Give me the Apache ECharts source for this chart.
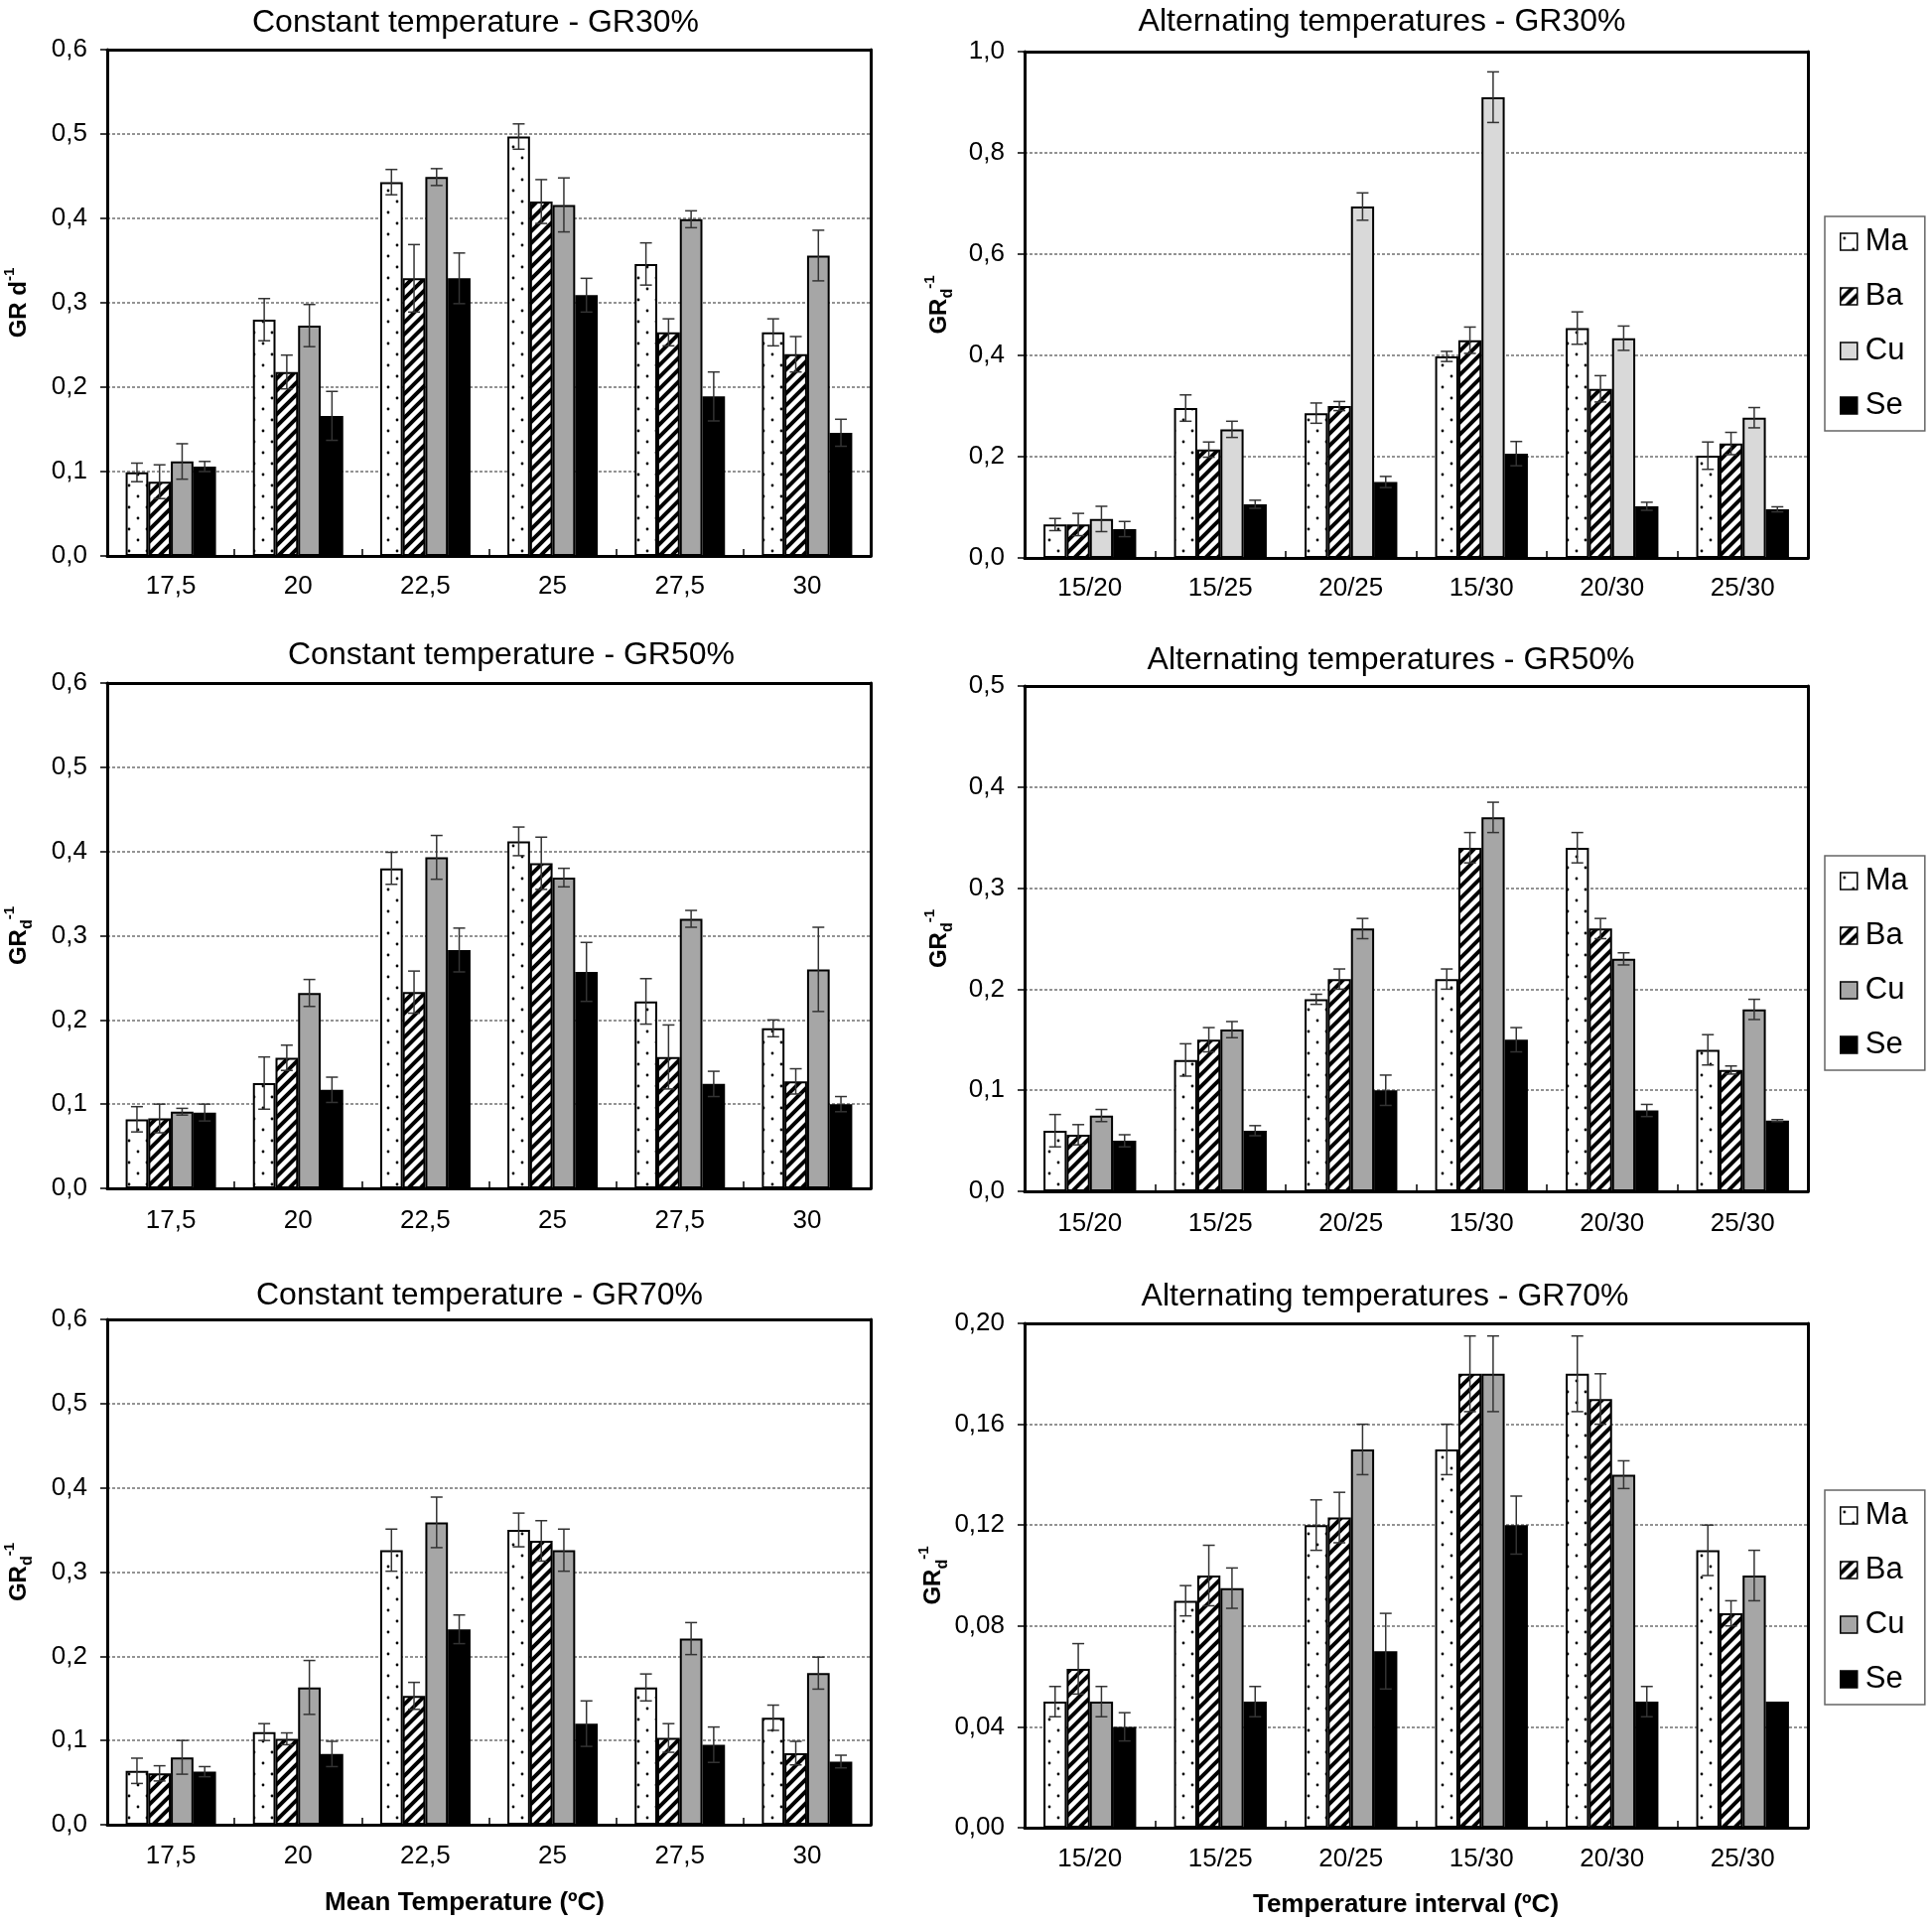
<!DOCTYPE html>
<html><head><meta charset="utf-8">
<script src="https://cdn.jsdelivr.net/npm/echarts@6/dist/echarts.min.js"></script>
<style>html,body{margin:0;padding:0;background:#fff}#c{width:1946px;height:1937px}</style>
</head><body><div id="c"></div>
<script>
// ---------- DATA ----------
const seriesNames = ['Ma', 'Ba', 'Cu', 'Se'];
const constCats = ['17,5', '20', '22,5', '25', '27,5', '30'];
const altCats = ['15/20', '15/25', '20/25', '15/30', '20/30', '25/30'];

const constYTicks = ['0,0', '0,1', '0,2', '0,3', '0,4', '0,5', '0,6'];
const alt30YTicks = ['0,0', '0,2', '0,4', '0,6', '0,8', '1,0'];
const alt50YTicks = ['0,0', '0,1', '0,2', '0,3', '0,4', '0,5'];
const alt70YTicks = ['0,00', '0,04', '0,08', '0,12', '0,16', '0,20'];

// Constant temperature - GR30%   (rows: Ma, Ba, Cu, Se)
const c30Values = [
  [0.099, 0.280, 0.443, 0.497, 0.346, 0.265],
  [0.088, 0.218, 0.329, 0.420, 0.265, 0.239],
  [0.112, 0.273, 0.449, 0.416, 0.399, 0.356],
  [0.106, 0.166, 0.329, 0.309, 0.189, 0.146]
];
const c30Errors = [
  [0.011, 0.025, 0.015, 0.015, 0.025, 0.016],
  [0.020, 0.020, 0.040, 0.026, 0.016, 0.021],
  [0.021, 0.025, 0.010, 0.032, 0.010, 0.030],
  [0.006, 0.029, 0.030, 0.020, 0.029, 0.016]
];
// Alternating temperatures - GR30%
const a30Values = [
  [0.066, 0.296, 0.286, 0.398, 0.454, 0.202],
  [0.066, 0.214, 0.300, 0.430, 0.334, 0.226],
  [0.077, 0.254, 0.694, 0.910, 0.434, 0.277],
  [0.057, 0.106, 0.150, 0.206, 0.102, 0.096]
];
const a30Errors = [
  [0.012, 0.026, 0.020, 0.010, 0.032, 0.027],
  [0.022, 0.015, 0.009, 0.026, 0.026, 0.022],
  [0.025, 0.016, 0.027, 0.050, 0.024, 0.020],
  [0.015, 0.008, 0.011, 0.024, 0.008, 0.005]
];
// Constant temperature - GR50%
const c50Values = [
  [0.082, 0.125, 0.380, 0.412, 0.222, 0.190],
  [0.083, 0.155, 0.233, 0.386, 0.156, 0.127],
  [0.091, 0.232, 0.393, 0.369, 0.320, 0.260],
  [0.090, 0.117, 0.283, 0.257, 0.124, 0.100]
];
const c50Errors = [
  [0.015, 0.031, 0.019, 0.017, 0.027, 0.010],
  [0.017, 0.015, 0.025, 0.031, 0.038, 0.015],
  [0.004, 0.016, 0.026, 0.011, 0.010, 0.050],
  [0.010, 0.015, 0.026, 0.035, 0.015, 0.009]
];
// Alternating temperatures - GR50%
const a50Values = [
  [0.060, 0.130, 0.190, 0.210, 0.340, 0.140],
  [0.056, 0.150, 0.210, 0.340, 0.260, 0.120],
  [0.075, 0.160, 0.260, 0.370, 0.230, 0.180],
  [0.050, 0.060, 0.100, 0.150, 0.080, 0.070]
];
const a50Errors = [
  [0.016, 0.016, 0.005, 0.010, 0.015, 0.015],
  [0.010, 0.012, 0.010, 0.015, 0.010, 0.004],
  [0.006, 0.008, 0.010, 0.015, 0.006, 0.010],
  [0.006, 0.005, 0.015, 0.012, 0.006, 0.001]
];
// Constant temperature - GR70%
const c70Values = [
  [0.064, 0.110, 0.326, 0.350, 0.163, 0.127],
  [0.061, 0.102, 0.153, 0.337, 0.103, 0.085],
  [0.080, 0.163, 0.359, 0.326, 0.221, 0.180],
  [0.063, 0.084, 0.232, 0.120, 0.095, 0.075]
];
const c70Errors = [
  [0.015, 0.010, 0.025, 0.020, 0.016, 0.015],
  [0.009, 0.007, 0.016, 0.024, 0.017, 0.014],
  [0.020, 0.032, 0.030, 0.025, 0.019, 0.019],
  [0.006, 0.015, 0.017, 0.027, 0.021, 0.0075]
];
// Alternating temperatures - GR70%
const a70Values = [
  [0.050, 0.090, 0.120, 0.150, 0.180, 0.110],
  [0.063, 0.100, 0.123, 0.180, 0.170, 0.085],
  [0.050, 0.095, 0.150, 0.180, 0.140, 0.100],
  [0.040, 0.050, 0.070, 0.120, 0.050, 0.050]
];
const a70Errors = [
  [0.006, 0.006, 0.010, 0.010, 0.015, 0.010],
  [0.010, 0.012, 0.010, 0.015, 0.010, 0.005],
  [0.006, 0.008, 0.010, 0.015, 0.0055, 0.010],
  [0.0056, 0.006, 0.015, 0.0115, 0.006, 0]
];

// ---------- STYLE ----------
const FONT = '"Liberation Sans", Arial, sans-serif';
const CAT_GAP = 0.29;

function dotPattern() {
  const c = document.createElement('canvas'); c.width = 18; c.height = 22;
  const g = c.getContext('2d');
  g.fillStyle = '#fff'; g.fillRect(0, 0, 18, 22);
  g.fillStyle = '#000';
  g.beginPath(); g.arc(4, 5, 1.4, 0, Math.PI * 2); g.fill();
  g.beginPath(); g.arc(13, 16, 1.4, 0, Math.PI * 2); g.fill();
  return c;
}
function stripePattern() {
  const s = 12;
  const c = document.createElement('canvas'); c.width = s; c.height = s;
  const g = c.getContext('2d');
  g.fillStyle = '#fff'; g.fillRect(0, 0, s, s);
  g.strokeStyle = '#000'; g.lineWidth = 4; g.lineCap = 'square';
  g.beginPath();
  g.moveTo(-s, s); g.lineTo(s, -s);
  g.moveTo(0, 2 * s); g.lineTo(2 * s, 0);
  g.moveTo(0, s); g.lineTo(s, 0);
  g.stroke();
  return c;
}
const dotFill = { image: dotPattern(), repeat: 'repeat' };
const stripeFill = { image: stripePattern(), repeat: 'repeat' };
const darkCu = '#a6a6a6', lightCu = '#d9d9d9';

const charts = [
  { title: 'Constant temperature - GR30%', tx: 479, ty: 23, cats: constCats, vals: c30Values, errs: c30Errors, max: 0.6, interval: 0.1, ticks: constYTicks,
    grid: { left: 108, top: 50, width: 769, height: 510 }, yname: '{a|GR d}{s|-1}', side: 'L', cu: darkCu, lab: 18 },
  { title: 'Alternating temperatures - GR30%', tx: 1392, ty: 22, cats: altCats, vals: a30Values, errs: a30Errors, max: 1.0, interval: 0.2, ticks: alt30YTicks,
    grid: { left: 1032, top: 52, width: 789, height: 510 }, yname: '{a|GR}{d|d}{s|-1}', side: 'R', cu: lightCu, lab: 18, legendTop: 218 },
  { title: 'Constant temperature - GR50%', tx: 515, ty: 660, cats: constCats, vals: c50Values, errs: c50Errors, max: 0.6, interval: 0.1, ticks: constYTicks,
    grid: { left: 108, top: 688, width: 769, height: 509 }, yname: '{a|GR}{d|d}{s|-1}', side: 'L', cu: darkCu, lab: 20 },
  { title: 'Alternating temperatures - GR50%', tx: 1401, ty: 665, cats: altCats, vals: a50Values, errs: a50Errors, max: 0.5, interval: 0.1, ticks: alt50YTicks,
    grid: { left: 1032, top: 691, width: 789, height: 509 }, yname: '{a|GR}{d|d}{s|-1}', side: 'R', cu: darkCu, lab: 20, legendTop: 862 },
  { title: 'Constant temperature - GR70%', tx: 483, ty: 1305, cats: constCats, vals: c70Values, errs: c70Errors, max: 0.6, interval: 0.1, ticks: constYTicks,
    grid: { left: 108, top: 1329, width: 769, height: 509 }, yname: '{a|GR}{d|d}{s|-1}', side: 'L', cu: darkCu, lab: 19 },
  { title: 'Alternating temperatures - GR70%', tx: 1395, ty: 1306, cats: altCats, vals: a70Values, errs: a70Errors, max: 0.20, interval: 0.04, ticks: alt70YTicks,
    grid: { left: 1032, top: 1333, width: 789, height: 508 }, yname: '{a|GR}{d|d}{s|-1}', side: 'R', cu: darkCu, lab: 19, legendTop: 1501 }
];

const nameRich = {
  a: { fontSize: 24, fontWeight: 'bold', fontFamily: FONT, color: '#000', lineHeight: 34 },
  d: { fontSize: 16, fontWeight: 'bold', fontFamily: FONT, color: '#000', lineHeight: 14, verticalAlign: 'bottom' },
  s: { fontSize: 15, fontWeight: 'bold', fontFamily: FONT, color: '#000', lineHeight: 14, verticalAlign: 'top' }
};

const option = {
  backgroundColor: '#fff',
  animation: false,
  title: [], grid: [], xAxis: [], yAxis: [], series: [], legend: []
};

charts.forEach((ch, gi) => {
  const fills = [dotFill, stripeFill, ch.cu, '#000'];
  option.title.push({
    text: ch.title, left: ch.tx, top: ch.ty, textAlign: 'center', textVerticalAlign: 'middle', padding: 0,
    textStyle: { fontSize: 32, fontWeight: 'normal', fontFamily: FONT, color: '#000' }
  });
  option.grid.push(Object.assign({ show: false, containLabel: false }, ch.grid));
  option.xAxis.push({
    gridIndex: gi, type: 'category', data: ch.cats, position: 'bottom',
    axisLine: { show: true, onZero: false, lineStyle: { color: '#000', width: 3 } },
    axisTick: { show: true, inside: true, length: 7, lineStyle: { color: '#000', width: 1.5 } },
    axisLabel: { fontSize: 26, color: '#000', fontFamily: FONT, margin: ch.lab },
    splitLine: { show: false }
  });
  const ticks = ch.ticks, iv = ch.interval;
  option.yAxis.push({
    gridIndex: gi, type: 'value', min: 0, max: ch.max, interval: iv, position: 'left',
    axisLine: { show: true, onZero: false, lineStyle: { color: '#000', width: 3 } },
    axisTick: { show: true, length: 7, lineStyle: { color: '#000', width: 1.5 } },
    axisLabel: { fontSize: 26, color: '#000', fontFamily: FONT, margin: 20,
      formatter: v => ticks[Math.round(v / iv)] },
    splitLine: { show: true, lineStyle: { color: '#707070', width: 1.5, type: [3, 2] } },
    name: ch.yname, nameLocation: 'middle', nameRotate: 90, nameGap: ch.side === 'L' ? 72 : 69,
    nameTextStyle: { rich: nameRich }
  });
  seriesNames.forEach((nm, si) => {
    option.series.push({
      type: 'bar', name: nm, xAxisIndex: gi, yAxisIndex: gi,
      data: ch.vals[si], barGap: '0%', barCategoryGap: (CAT_GAP * 100) + '%',
      itemStyle: { color: fills[si], borderColor: '#000', borderWidth: 2 },
      z: 2, silent: true
    });
  });
  const errData = [];
  seriesNames.forEach((nm, si) => {
    ch.vals[si].forEach((v, ci) => errData.push([ci, si, v, ch.errs[si][ci]]));
  });
  option.series.push({
    type: 'custom', xAxisIndex: gi, yAxisIndex: gi, z: 5, silent: true,
    data: errData, encode: { x: 0, y: 2 },
    renderItem: (params, api) => {
      const ci = api.value(0), si = api.value(1), v = api.value(2), e = api.value(3);
      if (!e) return null;
      const band = api.size([1, 0])[0];
      const bw = band * (1 - CAT_GAP) / 4;
      const x = api.coord([ci, v])[0] + (si - 1.5) * bw;
      const yt = api.coord([ci, v + e])[1], yb = api.coord([ci, v - e])[1];
      const st = { stroke: '#333', lineWidth: 1.5 };
      const cap = 6;
      return { type: 'group', children: [
        { type: 'line', shape: { x1: x, y1: yt, x2: x, y2: yb }, style: st },
        { type: 'line', shape: { x1: x - cap, y1: yt, x2: x + cap, y2: yt }, style: st },
        { type: 'line', shape: { x1: x - cap, y1: yb, x2: x + cap, y2: yb }, style: st }
      ] };
    }
  });
  if (ch.legendTop !== undefined) {
    option.legend.push({
      orient: 'vertical', left: 1838, top: ch.legendTop,
      padding: [10, 17, 10, 15], itemGap: 24, itemWidth: 17, itemHeight: 17,
      borderColor: '#666', borderWidth: 1.5, backgroundColor: '#fff',
      selectedMode: false, icon: 'rect',
      textStyle: { fontSize: 31, color: '#000', fontFamily: FONT, lineHeight: 30, padding: [0, 0, 0, 3] },
      data: seriesNames.map((nm, si) => ({ name: nm, itemStyle: { color: fills[si], borderColor: '#000', borderWidth: 1.5 } }))
    });
  }
});

// frame: top and right axis lines drawn over the gridlines
charts.forEach((ch, gi) => {
  option.xAxis.push({
    gridIndex: gi, type: 'category', data: ch.cats, position: 'top', z: 10,
    axisLine: { show: true, onZero: false, lineStyle: { color: '#000', width: 3 } },
    axisTick: { show: false }, axisLabel: { show: false }, splitLine: { show: false }
  });
  option.yAxis.push({
    gridIndex: gi, type: 'value', min: 0, max: ch.max, interval: ch.interval, position: 'right', z: 10,
    axisLine: { show: true, onZero: false, lineStyle: { color: '#000', width: 3 } },
    axisTick: { show: false }, axisLabel: { show: false }, splitLine: { show: false }
  });
});

option.title.push({
  text: 'Mean Temperature (ºC)', left: 468, top: 1917, textAlign: 'center', textVerticalAlign: 'middle', padding: 0,
  textStyle: { fontSize: 26, fontWeight: 'bold', fontFamily: FONT, color: '#000' }
});
option.title.push({
  text: 'Temperature interval (ºC)', left: 1416, top: 1919, textAlign: 'center', textVerticalAlign: 'middle', padding: 0,
  textStyle: { fontSize: 26, fontWeight: 'bold', fontFamily: FONT, color: '#000' }
});

const chart = echarts.init(document.getElementById('c'), null, { renderer: 'canvas' });
chart.setOption(option);
</script>
</body></html>
